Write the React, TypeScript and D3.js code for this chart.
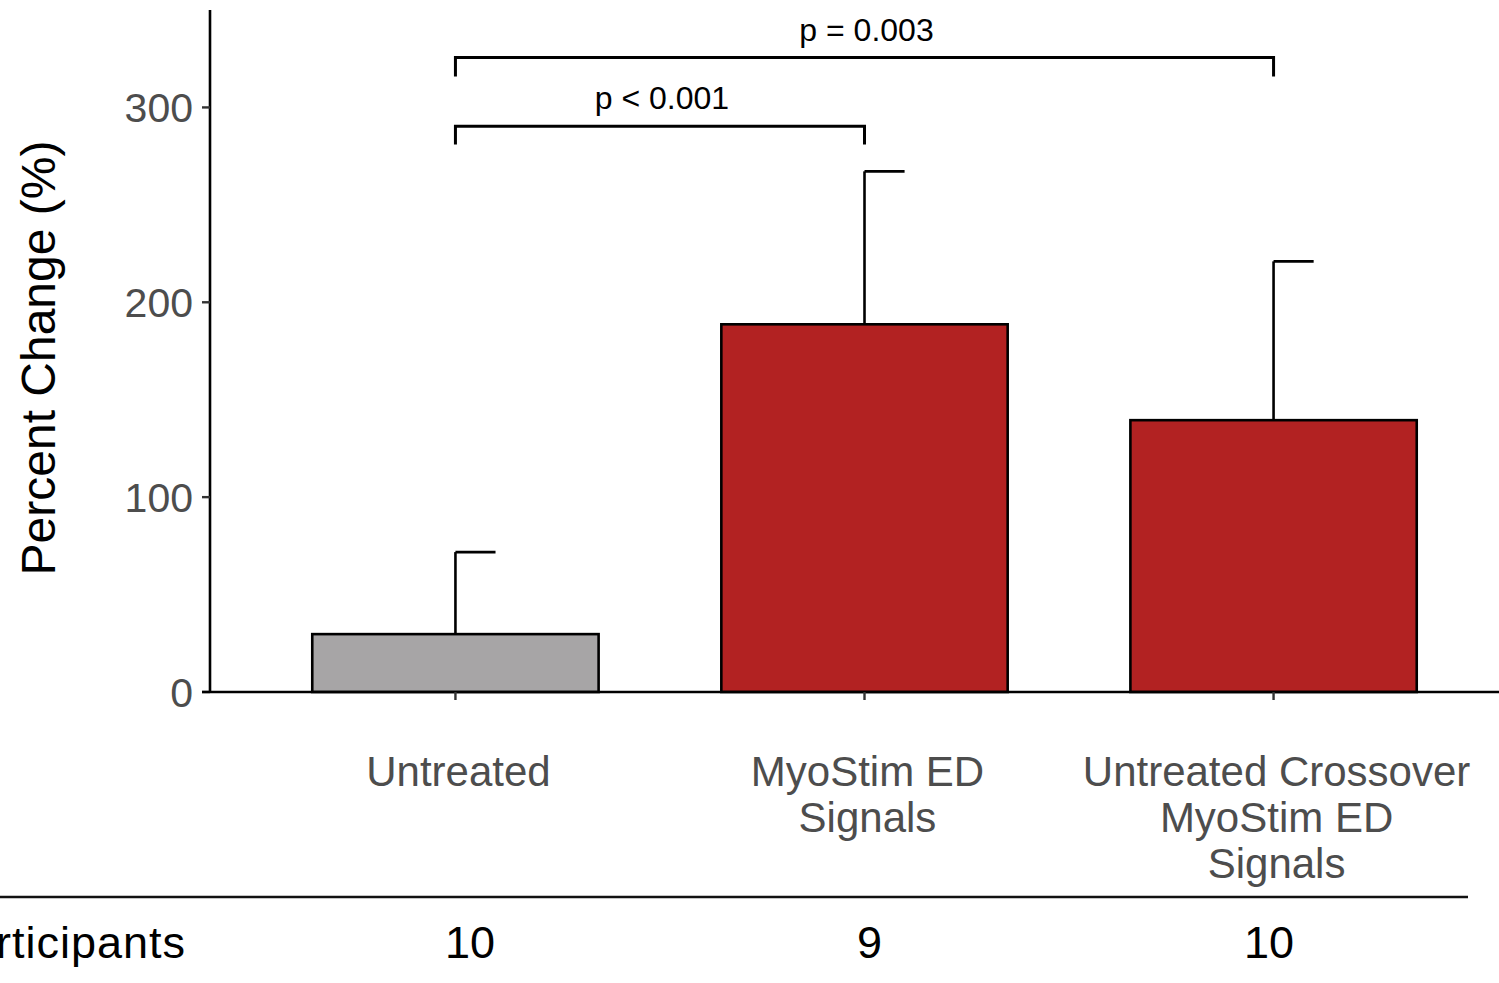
import React, { useEffect, useRef } from "react";
import * as d3 from "d3";

const groups = ["Untreated", "MyoStim ED Signals", "Untreated Crossover MyoStim ED Signals"];
const groupLines = [["Untreated"], ["MyoStim ED", "Signals"], ["Untreated Crossover", "MyoStim ED", "Signals"]];
const means = [29.7, 188.7, 139.5];
const upperErr = [71.8, 267.2, 221];
const barColors = ["#a7a5a6", "#b22222", "#b22222"];
const participants = [10, 9, 10];
const yTicks = [0, 100, 200, 300];

// significance brackets: [from index, to index, bar level, tip level, label]
const bracketFrom = [0, 0];
const bracketTo = [1, 2];
const bracketY = [290.3, 325.6];
const bracketTip = [281, 315.9];
const bracketLabels = ["p < 0.001", "p = 0.003"];

const App = () => {
  const svgRef = useRef<SVGSVGElement>(null);

  useEffect(() => {
    const width = 1499;
    const height = 983;
    const font = "'Liberation Sans', Arial, Helvetica, sans-serif";

    const svg = d3.select(svgRef.current);
    svg.selectAll("*").remove();
    svg.attr("width", width).attr("height", height);

    const x = d3.scalePoint<string>().domain(groups).range([210, 1519]).padding(0.6);
    const y = d3.scaleLinear().domain([0, 350]).range([692, 10]);
    const barW = x.step() * 0.7;
    // the participants table below is laid out on its own columns
    const tableX = d3.scalePoint<string>().domain(groups).range([470, 1269]);

    // bars
    svg
      .selectAll("rect.bar")
      .data(groups)
      .join("rect")
      .attr("class", "bar")
      .attr("x", (d) => x(d)! - barW / 2)
      .attr("y", (d, i) => y(means[i]))
      .attr("width", barW)
      .attr("height", (d, i) => y(0) - y(means[i]))
      .attr("fill", (d, i) => barColors[i])
      .attr("stroke", "#000")
      .attr("stroke-width", 2.6);

    // error bars (upper only, half cap)
    const capW = barW * 0.14;
    groups.forEach((g, i) => {
      svg
        .append("line")
        .attr("x1", x(g)!)
        .attr("x2", x(g)!)
        .attr("y1", y(means[i]))
        .attr("y2", y(upperErr[i]))
        .attr("stroke", "#000")
        .attr("stroke-width", 2.6);
      svg
        .append("line")
        .attr("x1", x(g)!)
        .attr("x2", x(g)! + capW)
        .attr("y1", y(upperErr[i]))
        .attr("y2", y(upperErr[i]))
        .attr("stroke", "#000")
        .attr("stroke-width", 2.6);
    });

    // y axis
    svg
      .append("line")
      .attr("x1", 210)
      .attr("x2", 210)
      .attr("y1", y(350))
      .attr("y2", y(0))
      .attr("stroke", "#000")
      .attr("stroke-width", 2.6);
    yTicks.forEach((t) => {
      svg
        .append("line")
        .attr("x1", 202)
        .attr("x2", 210)
        .attr("y1", y(t))
        .attr("y2", y(t))
        .attr("stroke", "#333")
        .attr("stroke-width", 2.4);
      svg
        .append("text")
        .attr("x", 193)
        .attr("y", y(t))
        .attr("dy", "0.36em")
        .attr("text-anchor", "end")
        .attr("font-family", font)
        .attr("font-size", 41)
        .attr("fill", "#4d4d4d")
        .text(t);
    });

    svg
      .append("text")
      .attr("transform", `translate(55,358) rotate(-90)`)
      .attr("text-anchor", "middle")
      .attr("font-family", font)
      .attr("font-size", 48)
      .attr("fill", "#000")
      .text("Percent Change (%)");

    // x axis
    svg
      .append("line")
      .attr("x1", 202)
      .attr("x2", width)
      .attr("y1", y(0))
      .attr("y2", y(0))
      .attr("stroke", "#000")
      .attr("stroke-width", 2.6);
    groups.forEach((g, i) => {
      svg
        .append("line")
        .attr("x1", x(g)!)
        .attr("x2", x(g)!)
        .attr("y1", y(0))
        .attr("y2", y(0) + 8)
        .attr("stroke", "#333")
        .attr("stroke-width", 2.4);
      groupLines[i].forEach((line, j) => {
        svg
          .append("text")
          .attr("x", x(g)! + 3)
          .attr("y", 786 + j * 46)
          .attr("text-anchor", "middle")
          .attr("font-family", font)
          .attr("font-size", 42)
          .attr("fill", "#4d4d4d")
          .text(line);
      });
    });

    // significance brackets
    bracketLabels.forEach((lab, i) => {
      const x1 = x(groups[bracketFrom[i]])!;
      const x2 = x(groups[bracketTo[i]])!;
      const path = d3.path();
      path.moveTo(x1, y(bracketTip[i]));
      path.lineTo(x1, y(bracketY[i]));
      path.lineTo(x2, y(bracketY[i]));
      path.lineTo(x2, y(bracketTip[i]));
      svg
        .append("path")
        .attr("d", path.toString())
        .attr("fill", "none")
        .attr("stroke", "#000")
        .attr("stroke-width", 3);
      svg
        .append("text")
        .attr("x", (x1 + x2) / 2 + 2)
        .attr("y", y(bracketY[i]) - 17)
        .attr("text-anchor", "middle")
        .attr("font-family", font)
        .attr("font-size", 32)
        .attr("fill", "#000")
        .text(lab);
    });

    // participants table
    svg
      .append("line")
      .attr("x1", 0)
      .attr("x2", 1468)
      .attr("y1", 897)
      .attr("y2", 897)
      .attr("stroke", "#111")
      .attr("stroke-width", 2.5);
    svg
      .append("text")
      .attr("x", 186)
      .attr("y", 958)
      .attr("text-anchor", "end")
      .attr("font-family", font)
      .attr("font-size", 45)
      .attr("letter-spacing", 1)
      .attr("fill", "#000")
      .text("Participants");
    groups.forEach((g, i) => {
      svg
        .append("text")
        .attr("x", tableX(g)!)
        .attr("y", 958)
        .attr("text-anchor", "middle")
        .attr("font-family", font)
        .attr("font-size", 45)
        .attr("fill", "#000")
        .text(participants[i]);
    });
  }, []);

  return (
    <svg
      ref={svgRef}
      style={{ position: "absolute", left: 0, top: 0, display: "block", background: "#fff" }}
    ></svg>
  );
};

export default App;
